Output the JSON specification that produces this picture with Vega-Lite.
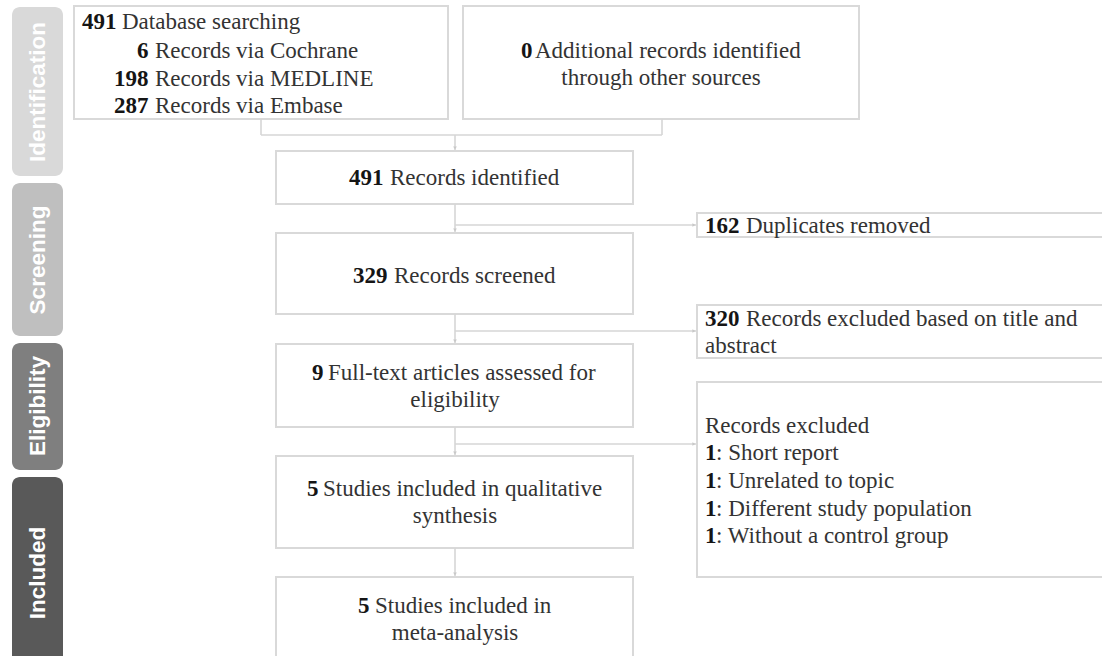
{
"$schema": "https://vega.github.io/schema/vega-lite/v6.json",
"width": 1102, "height": 656,
"autosize": {"type": "fit", "contains": "padding"},
"padding": 0,
"background": "white",
"config": {"view": {"stroke": null}},
"datasets": {
"tabs": [
{"phase": "Identification", "x": 12, "x2": 63, "y": 7, "y2": 176, "ty": 92},
{"phase": "Screening", "x": 12, "x2": 63, "y": 183, "y2": 336, "ty": 260},
{"phase": "Eligibility", "x": 12, "x2": 63, "y": 343, "y2": 470, "ty": 406},
{"phase": "Included", "x": 12, "x2": 63, "y": 477, "y2": 680, "ty": 573}
],
"boxes": [
{"id": "A", "x": 74, "x2": 448, "y": 6, "y2": 119},
{"id": "B", "x": 463, "x2": 859, "y": 6, "y2": 119},
{"id": "C", "x": 276, "x2": 633, "y": 151, "y2": 204},
{"id": "D", "x": 276, "x2": 633, "y": 233, "y2": 314},
{"id": "E", "x": 276, "x2": 633, "y": 344, "y2": 427},
{"id": "F", "x": 276, "x2": 633, "y": 456, "y2": 548},
{"id": "G", "x": 276, "x2": 633, "y": 577, "y2": 690},
{"id": "R1", "x": 697, "x2": 1130, "y": 213, "y2": 237},
{"id": "R2", "x": 697, "x2": 1130, "y": 305, "y2": 358},
{"id": "R3", "x": 697, "x2": 1130, "y": 382, "y2": 577}
],
"links": [
{"x": 261, "y": 119, "x2": 261, "y2": 135},
{"x": 662, "y": 119, "x2": 662, "y2": 135},
{"x": 261, "y": 135, "x2": 662, "y2": 135},
{"x": 455, "y": 135, "x2": 455, "y2": 150},
{"x": 455, "y": 204, "x2": 455, "y2": 232},
{"x": 455, "y": 225, "x2": 696, "y2": 225},
{"x": 455, "y": 314, "x2": 455, "y2": 343},
{"x": 455, "y": 331, "x2": 696, "y2": 331},
{"x": 455, "y": 427, "x2": 455, "y2": 455},
{"x": 455, "y": 444, "x2": 696, "y2": 444},
{"x": 455, "y": 548, "x2": 455, "y2": 576}
],
"heads": [
{"x": 455, "y": 148, "dir": "down"},
{"x": 455, "y": 230, "dir": "down"},
{"x": 455, "y": 341, "dir": "down"},
{"x": 455, "y": 453, "dir": "down"},
{"x": 455, "y": 574, "dir": "down"},
{"x": 694, "y": 225, "dir": "right"},
{"x": 694, "y": 331, "dir": "right"},
{"x": 694, "y": 444, "dir": "right"}
],
"texts": [
{"k": "b", "t": "491", "x": 82, "y": 29},
{"k": "l", "t": "Database searching", "x": 122, "y": 29},
{"k": "b", "t": "6", "x": 137, "y": 58},
{"k": "l", "t": "Records via Cochrane", "x": 155, "y": 58},
{"k": "b", "t": "198", "x": 114, "y": 86},
{"k": "l", "t": "Records via MEDLINE", "x": 155, "y": 86},
{"k": "b", "t": "287", "x": 114, "y": 113},
{"k": "l", "t": "Records via Embase", "x": 155, "y": 113},
{"k": "b", "t": "0", "x": 521, "y": 58},
{"k": "l", "t": "Additional records identified", "x": 535, "y": 58},
{"k": "c", "t": "through other sources", "x": 661, "y": 85},
{"k": "b", "t": "491", "x": 349, "y": 185},
{"k": "l", "t": "Records identified", "x": 390, "y": 185},
{"k": "b", "t": "329", "x": 353, "y": 283},
{"k": "l", "t": "Records screened", "x": 394, "y": 283},
{"k": "b", "t": "9", "x": 312, "y": 380},
{"k": "l", "t": "Full-text articles assessed for", "x": 328, "y": 380},
{"k": "c", "t": "eligibility", "x": 455, "y": 407},
{"k": "b", "t": "5", "x": 307, "y": 496},
{"k": "l", "t": "Studies included in qualitative", "x": 323, "y": 496},
{"k": "c", "t": "synthesis", "x": 455, "y": 523},
{"k": "b", "t": "5", "x": 358, "y": 613},
{"k": "l", "t": "Studies included in", "x": 375, "y": 613},
{"k": "c", "t": "meta-analysis", "x": 455, "y": 640},
{"k": "b", "t": "162", "x": 705, "y": 233},
{"k": "l", "t": "Duplicates removed", "x": 746, "y": 233},
{"k": "b", "t": "320", "x": 705, "y": 326},
{"k": "l", "t": "Records excluded based on title and", "x": 746, "y": 326},
{"k": "l", "t": "abstract", "x": 705, "y": 353},
{"k": "l", "t": "Records excluded", "x": 705, "y": 433},
{"k": "b", "t": "1", "x": 705, "y": 460},
{"k": "l", "t": ": Short report", "x": 716, "y": 460},
{"k": "b", "t": "1", "x": 705, "y": 488},
{"k": "l", "t": ": Unrelated to topic", "x": 716, "y": 488},
{"k": "b", "t": "1", "x": 705, "y": 516},
{"k": "l", "t": ": Different study population", "x": 716, "y": 516},
{"k": "b", "t": "1", "x": 705, "y": 543},
{"k": "l", "t": ": Without a control group", "x": 716, "y": 543}
]
},
"layer": [
{
"data": {"name": "tabs"},
"mark": {"type": "rect", "cornerRadius": 8, "clip": true},
"encoding": {
"x": {"field": "x", "type": "quantitative", "scale": {"domain": [0, 1102], "nice": false, "zero": false}, "axis": null},
"x2": {"field": "x2"},
"y": {"field": "y", "type": "quantitative", "scale": {"domain": [0, 656], "nice": false, "zero": false, "reverse": true}, "axis": null},
"y2": {"field": "y2"},
"color": {"field": "phase", "type": "nominal", "legend": null, "scale": {"domain": ["Identification", "Screening", "Eligibility", "Included"], "range": ["#d9d9d9", "#bfbfbf", "#7f7f7f", "#595959"]}}
}
},
{
"data": {"name": "tabs"},
"mark": {"type": "text", "angle": 270, "align": "center", "baseline": "middle", "font": "Liberation Sans", "fontSize": 22.5, "fontWeight": "bold", "color": "white"},
"encoding": {
"x": {"datum": 38, "type": "quantitative"},
"y": {"field": "ty", "type": "quantitative"},
"text": {"field": "phase"}
}
},
{
"data": {"name": "boxes"},
"mark": {"type": "rect", "fill": "white", "stroke": "#d9d9d9", "strokeWidth": 2, "clip": true},
"encoding": {
"x": {"field": "x", "type": "quantitative"},
"x2": {"field": "x2"},
"y": {"field": "y", "type": "quantitative"},
"y2": {"field": "y2"}
}
},
{
"data": {"name": "links"},
"mark": {"type": "rule", "color": "#d6d6d6", "strokeWidth": 1.6},
"encoding": {
"x": {"field": "x", "type": "quantitative"},
"x2": {"field": "x2"},
"y": {"field": "y", "type": "quantitative"},
"y2": {"field": "y2"}
}
},
{
"data": {"name": "heads"},
"mark": {"type": "point", "filled": true, "size": 14, "opacity": 1},
"encoding": {
"x": {"field": "x", "type": "quantitative"},
"y": {"field": "y", "type": "quantitative"},
"shape": {"field": "dir", "type": "nominal", "legend": null, "scale": {"domain": ["down", "right"], "range": ["triangle-down", "triangle-right"]}},
"color": {"value": "#c8c8c8"}
}
},
{
"data": {"name": "texts"},
"transform": [{"filter": "datum.k === 'b'"}],
"mark": {"type": "text", "align": "left", "baseline": "alphabetic", "font": "Liberation Serif", "fontSize": 23, "fontWeight": "bold", "color": "#151515"},
"encoding": {
"x": {"field": "x", "type": "quantitative"},
"y": {"field": "y", "type": "quantitative"},
"text": {"field": "t"}
}
},
{
"data": {"name": "texts"},
"transform": [{"filter": "datum.k === 'l'"}],
"mark": {"type": "text", "align": "left", "baseline": "alphabetic", "font": "Liberation Serif", "fontSize": 23, "color": "#333333"},
"encoding": {
"x": {"field": "x", "type": "quantitative"},
"y": {"field": "y", "type": "quantitative"},
"text": {"field": "t"}
}
},
{
"data": {"name": "texts"},
"transform": [{"filter": "datum.k === 'c'"}],
"mark": {"type": "text", "align": "center", "baseline": "alphabetic", "font": "Liberation Serif", "fontSize": 23, "color": "#333333"},
"encoding": {
"x": {"field": "x", "type": "quantitative"},
"y": {"field": "y", "type": "quantitative"},
"text": {"field": "t"}
}
}
]
}
